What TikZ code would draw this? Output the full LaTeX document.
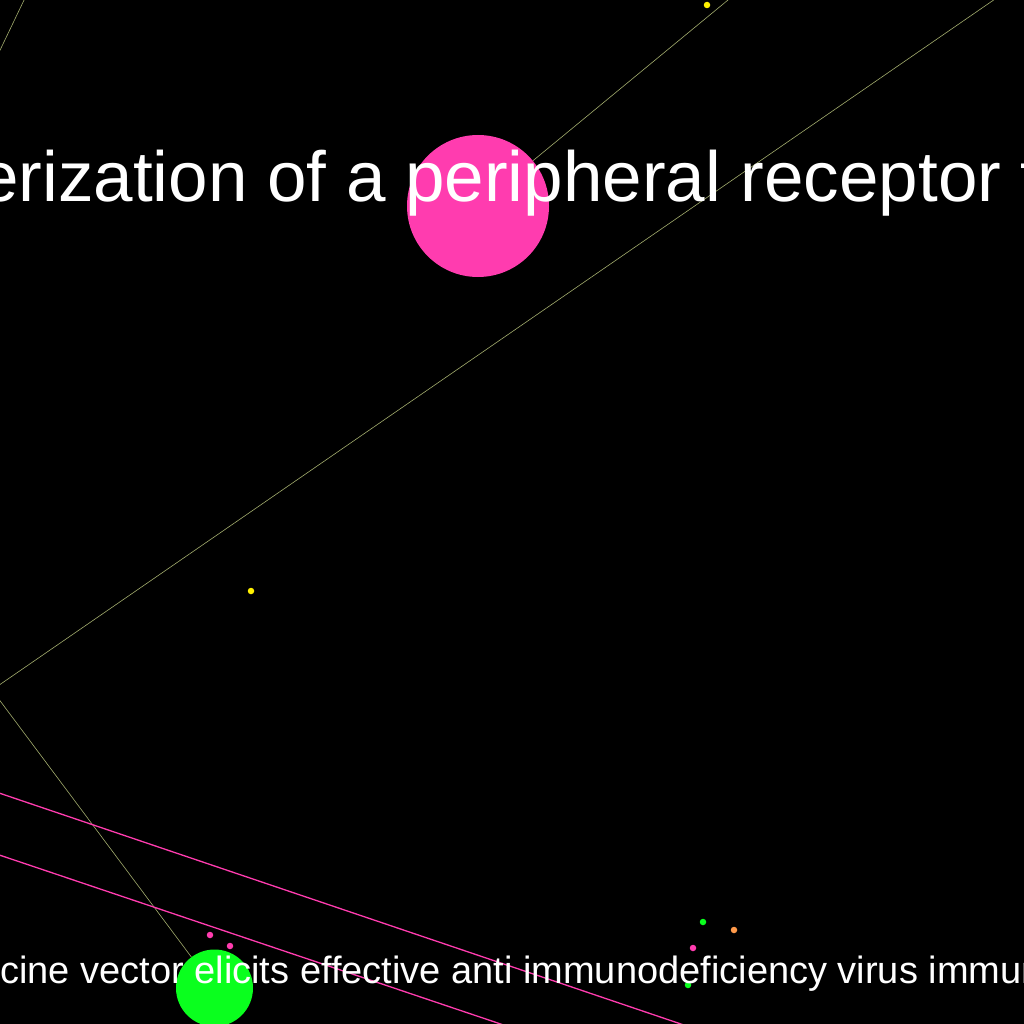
\documentclass[tikz,border=0pt]{standalone}
\usepackage{fontspec}
\setmainfont{Liberation Sans}
\pgfdeclarelayer{bg}
\pgfsetlayers{bg,main}
\begin{document}
\begin{tikzpicture}[x=1pt,y=-1pt,
  dot/.style={circle,inner sep=0pt,minimum size=6.5pt},
  bubble/.style={circle,inner sep=0pt},
  edgey/.style={color3,line width=0.6pt},
  edgep/.style={color0,line width=1.3pt},
  label/.style={anchor=base west,inner sep=0pt,text=white}]
\definecolor{color0}{HTML}{FF3CAF}
\definecolor{color1}{HTML}{0AFF1E}
\definecolor{color2}{HTML}{FFF000}
\definecolor{color3}{HTML}{A3AD6E}
\definecolor{color4}{HTML}{FF9A4A}
\useasboundingbox (0,0) rectangle (1024,1024);
\clip (0,0) rectangle (1024,1024);
% nodes
\node[bubble,fill=color0,minimum size=142pt] (pink) at (478,206) {};
\node[bubble,fill=color1,minimum size=77pt] (green) at (214.5,988) {};
\node[dot,fill=color2] (d1) at (707,5) {};
\node[dot,fill=color2] (d2) at (251,591) {};
\node[dot,fill=color0] (d3) at (210,935) {};
\node[dot,fill=color0] (d4) at (230,946) {};
\node[dot,fill=color0] (d5) at (693,948) {};
\node[dot,fill=color1] (d6) at (703,922) {};
\node[dot,fill=color1] (d7) at (688,985) {};
\node[dot,fill=color4] (d8) at (734,930) {};
% points outside the frame
\coordinate (hub) at (-8,690);
\coordinate (ne1) at (1194,-138);
\coordinate (ne2) at (853,-103);
\coordinate (nw1) at (60,-75);
\coordinate (nw2) at (-20,92);
\coordinate (w1) at (-60,773);
\coordinate (s1) at (740,1044);
\coordinate (w2) at (-60,835);
\coordinate (s2) at (560,1044);
% edges
\begin{pgfonlayer}{bg}
\fill[black] (0,0) rectangle (1024,1024);
\draw[edgey] (nw1) -- (nw2);
\draw[edgey] (pink) -- (ne2);
\draw[edgey] (hub) -- (ne1);
\draw[edgey] (hub) -- (green);
\draw[edgep] (w1) -- (s1);
\draw[edgep] (w2) -- (s2);
\end{pgfonlayer}
% texts
\node[label,font=\fontsize{71}{85}\selectfont] (title) at (-21,202) {erization of a peripheral receptor f};
\node[label,font=\fontsize{38}{46}\selectfont] (caption) at (0,983) {cine vector elicits effective anti immunodeficiency virus immun};
\end{tikzpicture}
\end{document}
